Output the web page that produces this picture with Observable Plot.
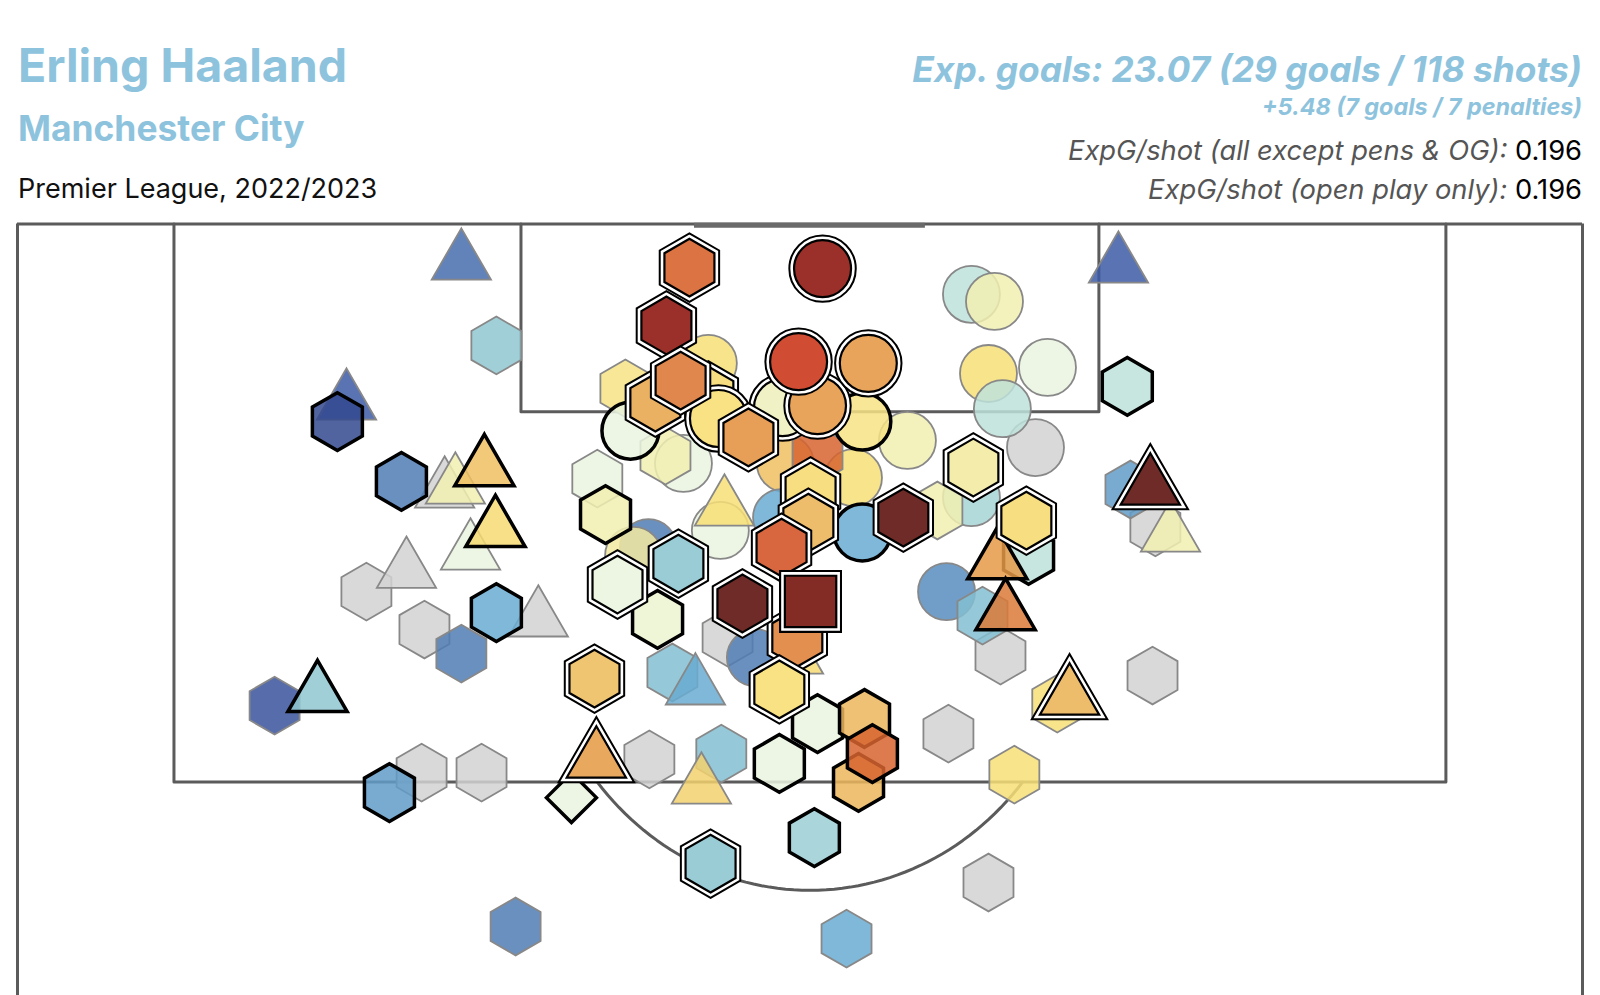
<!DOCTYPE html>
<html>
<head>
<meta charset="utf-8">
<script src="https://cdn.jsdelivr.net/npm/d3@7"></script>
<script src="https://cdn.jsdelivr.net/npm/@observablehq/plot@0.6"></script>
<style>
html,body{margin:0;padding:0;background:#fff;overflow:hidden;width:1600px;height:995px;}
#wrap{position:relative;width:1600px;height:995px;}
#head{position:absolute;left:0;top:0;font-family:Inter,sans-serif;}
#chart{position:absolute;left:0;top:215px;}
</style>
</head>
<body>
<div id="wrap">
  <svg id="head" width="1600" height="215">
    <text x="18" y="81.6" font-size="46.5" font-weight="700" fill="#8ec3dd">Erling Haaland</text>
    <text x="18" y="140.8" font-size="35.4" font-weight="700" fill="#8ec3dd">Manchester City</text>
    <text x="18" y="198" font-size="27" font-weight="400" fill="#111">Premier League, 2022/2023</text>
    <text x="1582" y="81.6" text-anchor="end" font-size="35.3" font-weight="700" font-style="italic" fill="#8ec3dd">Exp. goals: 23.07 (29 goals / 118 shots)</text>
    <text x="1582" y="115.3" text-anchor="end" font-size="23.4" font-weight="700" font-style="italic" fill="#8ec3dd">+5.48 (7 goals / 7 penalties)</text>
    <text x="1582" y="160.2" text-anchor="end" font-size="27.3"><tspan font-style="italic" fill="#555">ExpG/shot (all except pens &amp; OG):</tspan><tspan fill="#000"> 0.196</tspan></text>
    <text x="1582" y="199" text-anchor="end" font-size="27.3"><tspan font-style="italic" fill="#555">ExpG/shot (open play only):</tspan><tspan fill="#000"> 0.196</tspan></text>
  </svg>
  <div id="chart"></div>
</div>
<script>
// ---------- shot data (metres: x from goal centre, y out from goal line) ----------
const shotShape = [
  // blocked
  "triangle","triangle","triangle","hexagon","hexagon","hexagon","hexagon","hexagon","hexagon","hexagon","hexagon","hexagon","hexagon","hexagon","circle",
  // off target
  "triangle","triangle","hexagon","triangle","triangle","triangle","hexagon","hexagon","hexagon","hexagon",
  "hexagon","hexagon","hexagon","hexagon","triangle","circle","circle","circle","circle","circle",
  "circle","circle","hexagon","circle","hexagon","circle","hexagon","circle","hexagon","hexagon",
  "circle","circle","hexagon","circle","circle","triangle","circle","circle","circle","triangle",
  "hexagon","triangle","triangle",
  // saved
  "hexagon","hexagon","triangle","triangle","hexagon","triangle","hexagon","diamond","hexagon","hexagon",
  "hexagon","triangle","triangle","circle","circle","hexagon","circle","hexagon","hexagon","hexagon",
  "hexagon","hexagon","hexagon",
  // goals
  "hexagon","circle","circle","circle","hexagon","hexagon","hexagon","hexagon","circle","circle",
  "circle","hexagon","hexagon","hexagon","hexagon","hexagon","hexagon","hexagon","hexagon",
  "square","square","square","square","square","square","square",
  "hexagon","hexagon","triangle","hexagon","hexagon","hexagon","hexagon","triangle","triangle"
];
const shotX = [
  -11.58,-12.79,-8.61,-14.06,-12.22,-12.31,-10.41,-5.09,5.66,4.39,10.86,6.04,10.95,-2.61,7.15,
  -11.05,9.78,-9.94,-14.69,-11.24,-10.76,-11.05,-16.97,-9.33,-2.81,
  1.16,6.48,7.84,10.16,11.43,5.12,5.85,5.66,7.53,6.10,
  3.09,5.12,4.04,4.33,5.47,-3.22,-5.85,-4.01,-4.58,-6.74,
  -0.78,1.38,0.24,-0.90,-2.84,-2.71,-5.12,-5.59,-1.73,-0.52,
  -4.36,-3.63,-3.44,
  -14.98,-12.95,-10.32,-9.97,-9.94,-15.61,-13.33,-7.56,0.14,10.06,
  6.93,5.94,6.20,1.66,-5.69,-6.48,1.66,-4.83,-0.97,0.24,
  1.73,1.54,1.98,
  -3.22,-0.87,0.24,-2.90,-4.90,-4.55,-3.82,-4.10,-0.36,1.85,
  0.40,-1.95,0.02,-0.05,-6.10,-4.17,-0.40,-0.90,-2.14,
  0.02,0.02,0.02,0.02,0.02,0.02,0.02,
  -0.97,-6.83,-6.77,-3.15,5.18,2.96,6.86,8.23,10.79
];
const shotY = [
  7.88,10.25,11.69,10.87,11.99,16.22,16.22,15.83,19.47,15.07,13.35,12.76,8.97,12.23,6.61,
  1.14,1.23,3.59,5.28,7.76,9.71,12.70,14.24,20.77,15.66,
  21.13,16.28,14.18,7.85,9.18,2.08,2.29,4.42,4.24,5.46,
  6.40,8.09,8.47,10.87,11.58,4.12,4.86,7.08,6.85,7.53,
  7.08,7.50,6.82,8.68,9.06,8.41,9.57,9.80,12.82,12.79,
  13.26,13.70,16.63,
  5.84,7.61,7.23,9.03,11.49,13.91,16.81,16.96,18.14,4.80,
  9.80,9.98,11.49,5.84,6.11,8.59,9.12,11.69,15.95,14.77,
  14.62,16.51,15.66,
  5.07,5.43,5.37,5.75,5.28,3.00,1.29,4.63,4.07,4.12,
  1.32,6.31,7.91,8.83,10.66,10.04,12.23,9.57,11.22,
  11.16,11.16,11.16,11.16,11.16,11.16,11.16,
  13.76,13.44,15.86,18.91,7.20,8.68,8.77,14.00,7.79
];
const shotXG = [
  0.05,0.04,0.06,0.04,0.04,0.03,0.04,0.05,0.03,0.04,0.03,0.05,0.04,0.07,0.08,
  0.035,0.03,0.07,0.03,0.14,0.11,0.04,0.025,0.04,0.065,
  0.055,0.18,0.18,0.05,0.14,0.09,0.14,0.18,0.11,0.09,
  0.14,0.08,0.14,0.045,0.065,0.18,0.17,0.11,0.14,0.11,
  0.25,0.18,0.45,0.055,0.11,0.18,0.04,0.15,0.04,0.19,
  0.065,0.055,0.21,
  0.02,0.04,0.25,0.19,0.055,0.07,0.05,0.11,0.075,0.09,
  0.09,0.33,0.40,0.17,0.11,0.14,0.055,0.12,0.11,0.11,
  0.27,0.27,0.45,
  0.19,0.13,0.33,0.18,0.30,0.70,0.45,0.40,0.56,0.33,
  0.70,0.34,0.19,0.27,0.11,0.07,0.38,0.48,0.86,
  0.78,0.78,0.78,0.78,0.78,0.78,0.78,
  0.18,0.25,0.32,0.07,0.15,0.86,0.19,0.27,0.86
];
const shotResult = [
  ...Array(15).fill("blocked"),
  ...Array(43).fill("off"),
  ...Array(23).fill("saved"),
  ...Array(35).fill("goal")
];

// colour stops (xG -> colour)
const xgStops  = [0.02,0.03,0.04,0.055,0.07,0.09,0.11,0.14,0.18,0.25,0.33,0.40,0.48,0.56,0.70,0.78,0.86];
const xgColors = ["#34498f","#3d5ba6","#507db5","#69acd1","#8fc7d1","#bee2db","#eaf5e0","#f1eeb0","#f7df75",
                  "#eebf62","#e59a48","#dc7a38","#d4562a","#cb3a1e","#8f1a12","#76150d","#5f1410"];

// pitch geometry (metres)
const frameX = [-25.12, 24.49];
const frameBottom = 22.81;
const penaltyBoxX = [-20.16, -20.16, 20.16, 20.16];
const penaltyBoxY = [0, 16.5, 16.5, 0];
const sixYardX = [-9.16, -9.16, 9.16, 9.16];
const sixYardY = [0, 5.55, 5.55, 0];
const goalX = [-3.66, 3.66];
const penaltySpotY = 11;
const arcRadius = 8.7;

// ---------- build ----------
const shots = shotX.map((x, i) => ({x, y: shotY[i], xg: shotXG[i], shape: shotShape[i], result: shotResult[i]}));
const symName = {hexagon: "hexagon", circle: "circle", triangle: "triangle", square: "square", diamond: "diamond2"};
const rBase = {hexagon: 25, circle: 28.5, triangle: 22, square: 29, diamond: 22.5};
const rRing = {hexagon: 4.7, circle: 4.7, triangle: 6.0, square: 5.3, diamond: 6.0};

const arcT0 = Math.asin((16.5 - penaltySpotY) / arcRadius);
const arcPts = d3.range(0, 61).map(k => {
  const t = arcT0 + (Math.PI - 2 * arcT0) * k / 60;
  return [arcRadius * Math.cos(t), penaltySpotY + arcRadius * Math.sin(t)];
});

const lineStyle = {stroke: "#5b5b5b", strokeWidth: 3};
const base = {x: "x", y: "y", symbol: d => symName[d.shape], r: d => rBase[d.shape]};

const goals = shots.filter(d => d.result === "goal");
const goalMarks = goals.flatMap(d => [
  Plot.dot([d], {x: "x", y: "y", symbol: e => symName[e.shape], r: e => rBase[e.shape] + rRing[e.shape],
    fill: "white", stroke: "#000", strokeWidth: 2}),
  Plot.dot([d], {...base, fill: "xg", fillOpacity: 0.9, stroke: "#000", strokeWidth: 2.2})
]);

const chart = Plot.plot({
  width: 1600,
  height: 780,
  marginTop: 8.5, marginBottom: 0, marginLeft: 17, marginRight: 18,
  x: {domain: frameX, axis: null},
  y: {domain: [0, frameBottom], reverse: true, axis: null},
  r: {type: "identity"},
  color: {type: "linear", domain: xgStops, range: xgColors, interpolate: "rgb"},
  style: {background: "transparent", overflow: "visible"},
  marks: [
    Plot.ruleX(frameX, {y1: 0, y2: frameBottom, ...lineStyle}),
    Plot.ruleY([0], {x1: frameX[0], x2: frameX[1], ...lineStyle}),
    Plot.line(penaltyBoxX.map((x, i) => [x, penaltyBoxY[i]]), lineStyle),
    Plot.line(sixYardX.map((x, i) => [x, sixYardY[i]]), lineStyle),
    Plot.line(arcPts, lineStyle),
    Plot.ruleY([0.04], {x1: goalX[0], x2: goalX[1], stroke: "#6a6a6a", strokeWidth: 5}),
    Plot.dot(shots.filter(d => d.result === "blocked"), {...base, fill: "#d2d2d2", fillOpacity: 0.85, stroke: "#888", strokeWidth: 1.8}),
    Plot.dot(shots.filter(d => d.result === "off"), {...base, fill: "xg", fillOpacity: 0.85, stroke: "#888", strokeWidth: 1.8}),
    Plot.dot(shots.filter(d => d.result === "saved"), {...base, fill: "xg", fillOpacity: 0.85, stroke: "#000", strokeWidth: 3.5}),
    ...goalMarks
  ]
});
document.getElementById("chart").appendChild(chart);
</script>
</body>
</html>
